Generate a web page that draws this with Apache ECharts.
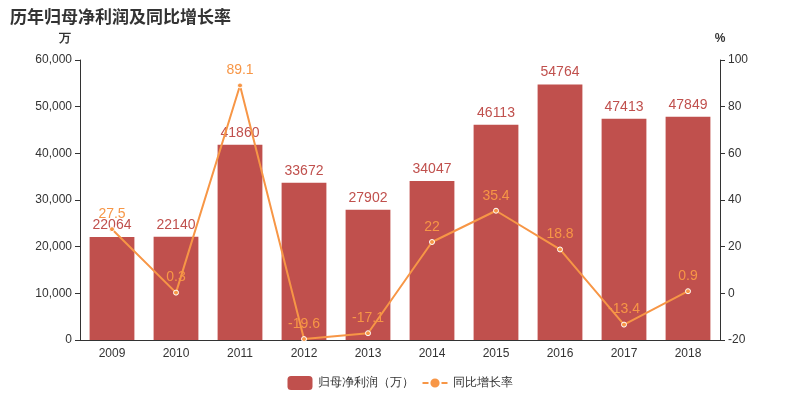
<!DOCTYPE html>
<html>
<head>
<meta charset="utf-8">
<script src="https://cdn.jsdelivr.net/npm/echarts@6/dist/echarts.min.js"></script>
</head>
<body style="margin:0">
<div id="main" style="width:800px;height:400px"></div>
<script>
var years = ['2009', '2010', '2011', '2012', '2013', '2014', '2015', '2016', '2017', '2018'];
var profit = [22064, 22140, 41860, 33672, 27902, 34047, 46113, 54764, 47413, 47849];
var growth = [27.5, 0.3, 89.1, -19.6, -17.1, 22, 35.4, 18.8, -13.4, 0.9];

var chart = echarts.init(document.getElementById('main'));
chart.setOption({
    title: {
        text: '历年归母净利润及同比增长率',
        left: 5, top: 3,
        textStyle: { fontSize: 17, fontWeight: 'bold', color: '#333', fontFamily: 'Noto Sans CJK SC' }
    },
    legend: {
        bottom: 5,
        data: ['归母净利润（万）', '同比增长率'],
        textStyle: { fontSize: 12, color: '#333' }
    },
    grid: { left: 80, right: 80, top: 60, bottom: 60 },
    xAxis: {
        type: 'category',
        data: years,
        axisLine: { lineStyle: { color: '#333' } },
        axisLabel: { color: '#333', fontSize: 12 }
    },
    yAxis: [
        {
            type: 'value', name: '万', min: 0, max: 60000, interval: 10000,
            nameTextStyle: { color: '#333', fontWeight: 'bold', padding: [0, 30, 0, 0] },
            splitLine: { show: false },
            axisLine: { show: true, lineStyle: { color: '#333' } },
            axisTick: { show: true },
            axisLabel: { color: '#333', fontSize: 12 }
        },
        {
            type: 'value', name: '%', min: -20, max: 100, interval: 20,
            nameTextStyle: { color: '#333', fontWeight: 'bold' },
            splitLine: { show: false },
            axisLine: { show: true, lineStyle: { color: '#333' } },
            axisTick: { show: true },
            axisLabel: { color: '#333', fontSize: 12 }
        }
    ],
    series: [
        {
            name: '归母净利润（万）',
            type: 'bar',
            data: profit,
            barWidth: '70%',
            itemStyle: { color: '#c0504d' },
            label: { show: true, position: 'top', color: '#c0504d', fontSize: 14 }
        },
        {
            name: '同比增长率',
            type: 'line',
            yAxisIndex: 1,
            data: growth,
            symbol: 'circle',
            symbolSize: 5,
            itemStyle: { color: '#f79646', borderColor: '#fff', borderWidth: 1 },
            lineStyle: { color: '#f79646', width: 2 },
            label: { show: true, position: 'top', color: '#f79646', fontSize: 14 }
        }
    ]
});
</script>
</body>
</html>
